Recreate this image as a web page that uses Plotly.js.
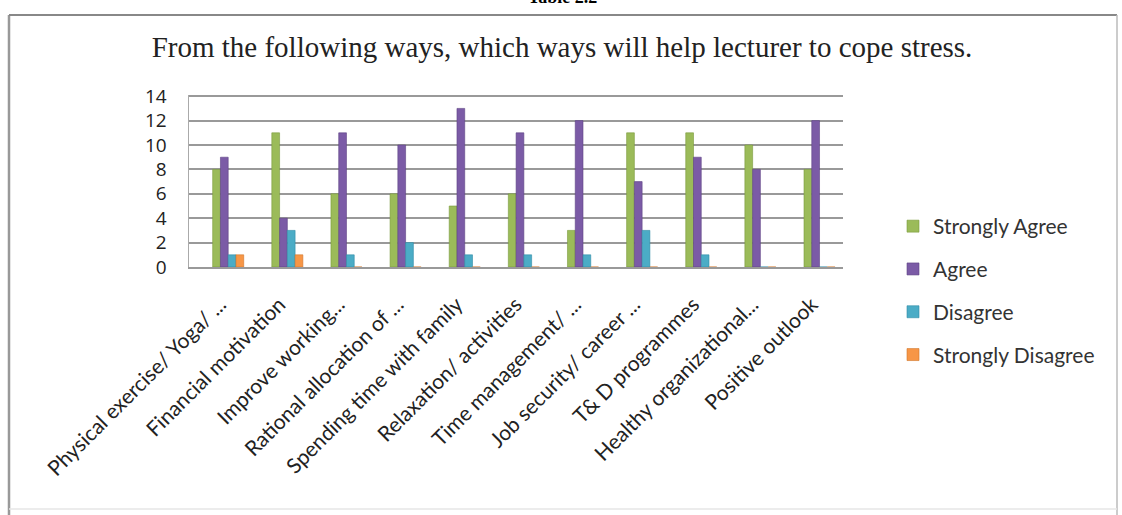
<!DOCTYPE html>
<html>
<head>
<meta charset="utf-8">
<script src="https://cdn.plot.ly/plotly-3.0.1.min.js"></script>
<style>html,body{margin:0;padding:0;background:#fff;}#chart{width:1122px;height:515px;}</style>
</head>
<body>
<div id="chart"></div>
<script>
const categories = [
  "Physical exercise/ Yoga/ ...",
  "Financial motivation",
  "Improve working...",
  "Rational allocation of ...",
  "Spending time with family",
  "Relaxation/ activities",
  "Time management/ ...",
  "Job security/ career ...",
  "T& D programmes",
  "Healthy organizational...",
  "Positive outlook"
];
const seriesNames = ["Strongly Agree", "Agree", "Disagree", "Strongly Disagree"];
const stronglyAgree    = [8, 11, 6, 6, 5, 6, 3, 11, 11, 10, 8];
const agree            = [9, 4, 11, 10, 13, 11, 12, 7, 9, 8, 12];
const disagree         = [1, 3, 1, 2, 1, 1, 1, 3, 1, 0, 0];
const stronglyDisagree = [1, 1, 0, 0, 0, 0, 0, 0, 0, 0, 0];
const yTicks = [0, 2, 4, 6, 8, 10, 12, 14];
const chartTitle = "From the following ways, which ways will help lecturer to cope stress.";
const tableCaption = "Table 2.2";

const colors = ["#9BBB59", "#7B5BA6", "#4BACC6", "#F79646"];
const edge = ["#7A9A3C", "#5E4385", "#2F8CA6", "#D0762A"];
const values = [stronglyAgree, agree, disagree, stronglyDisagree];

const data = values.map((v, i) => ({
  type: "bar",
  name: seriesNames[i],
  x: categories,
  y: v,
  legendgroup: "g" + i,
  marker: {color: colors[i], line: {color: edge[i], width: 0.6}},
  hoverinfo: "x+y+name"
}));

const L = 189, R = 1122 - 843, T = 95, B = 515 - 267;
const pw = 1122 - L - R, ph = 515 - T - B;
const px = X => (X - L) / pw;
const py = Y => (515 - B - Y) / ph;

const layout = {
  width: 1122, height: 515,
  margin: {l: L, r: R, t: T, b: B},
  paper_bgcolor: "#ffffff",
  plot_bgcolor: "#ffffff",
  barmode: "group",
  bargap: 0.475,
  bargroupgap: 0,
  showlegend: true,
  title: {
    text: chartTitle,
    x: 562 / 1122, xanchor: "center",
    y: 1 - 47 / 515, yanchor: "middle",
    xref: "container", yref: "container",
    font: {family: "Liberation Serif, Times New Roman, serif", size: 29, color: "#222"}
  },
  xaxis: {
    type: "category",
    range: [-0.663, 10.397],
    tickangle: -45,
    tickfont: {family: "Lato, Calibri, sans-serif", size: 21, color: "#222"},
    showgrid: false,
    showline: true, linecolor: "#999", linewidth: 2,
    ticks: "", ticklabelstandoff: 15, ticklabelshift: -8,
    automargin: false
  },
  yaxis: {
    range: [0, 14.1],
    tickvals: yTicks,
    ticktext: yTicks.map(String),
    tickfont: {family: "Open Sans, sans-serif", size: 19, color: "#222"},
    showgrid: true, gridcolor: "#999", gridwidth: 2,
    showline: true, linecolor: "#aaa", linewidth: 1.5,
    zeroline: false,
    ticks: "", ticklabelstandoff: 17,
    automargin: false
  },
  legend: {
    x: px(893), y: py(206), xanchor: "left", yanchor: "top",
    xref: "paper", yref: "paper",
    traceorder: "grouped",
    tracegroupgap: 12.5,
    font: {family: "Lato, Calibri, sans-serif", size: 21, color: "#333"},
    bgcolor: "rgba(0,0,0,0)",
    itemclick: false
  },
  shapes: [
    {type: "line", xref: "paper", yref: "paper", x0: px(9), x1: px(9), y0: py(515), y1: py(15),
     line: {color: "#999", width: 2.5}, layer: "below"},
    {type: "line", xref: "paper", yref: "paper", x0: px(9), x1: px(1117), y0: py(15), y1: py(15),
     line: {color: "#888", width: 2}, layer: "below"},
    {type: "line", xref: "paper", yref: "paper", x0: px(1117), x1: px(1117), y0: py(515), y1: py(15),
     line: {color: "#bbb", width: 1.5}, layer: "below"},
    {type: "line", xref: "paper", yref: "paper", x0: px(9), x1: px(1117), y0: py(509), y1: py(509),
     line: {color: "#e6e6e6", width: 1.5}, layer: "below"}
  ],
  annotations: [{
    text: "<b>" + tableCaption + "</b>",
    xref: "paper", yref: "paper",
    x: px(562), y: py(-3), xanchor: "center", yanchor: "middle",
    showarrow: false,
    font: {family: "Liberation Serif, Times New Roman, serif", size: 18, color: "#000"}
  }]
};

Plotly.newPlot("chart", data, layout, {displayModeBar: false, staticPlot: true});
</script>
</body>
</html>
